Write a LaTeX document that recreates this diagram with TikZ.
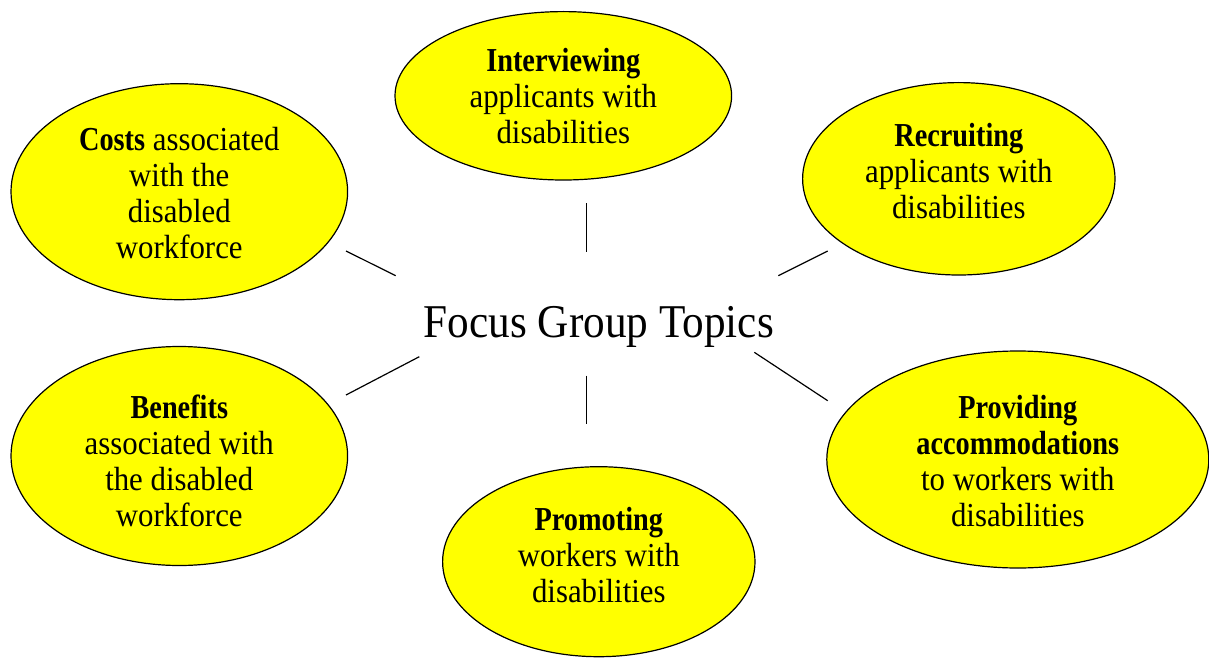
\documentclass[tikz,border=0pt]{standalone}
\usepackage{fontspec}
\setmainfont{Liberation Serif}[FakeStretch=0.92]
\newfontfamily\keyfont{Liberation Serif}[FakeStretch=0.845]
\usetikzlibrary{shapes.geometric}
\definecolor{topicyellow}{RGB}{255,255,0}
% bold lead word of each topic
\newcommand\kw[1]{{\keyfont\bfseries #1}}
% centred lines, baseline of the first line is the node's base
\newcommand\lines[1]{\begin{tabular}[t]{@{}c@{}}#1\end{tabular}}

\begin{document}
\begin{tikzpicture}[x=1pt,y=-1pt,
  topic/.style={ellipse, draw=black, line width=1.2pt, fill=topicyellow, inner sep=0pt},
  topictext/.style={anchor=base, inner sep=0pt, font=\fontsize{33.5}{36}\selectfont},
  spoke/.style={line width=1.2pt}]

\useasboundingbox (0,0) rectangle (1209,658);

% topic ellipses
\node[topic, minimum width=336.6pt, minimum height=168.4pt] (interview) at (563.3,95.8) {};
\node[topic, minimum width=336.6pt, minimum height=216pt]   (costs)     at (179.3,191.7) {};
\node[topic, minimum width=312.4pt, minimum height=192.4pt] (recruit)   at (958.8,178.8) {};
\node[topic, minimum width=336.6pt, minimum height=219pt]   (benefits)  at (179.3,456) {};
\node[topic, minimum width=312.4pt, minimum height=190pt]   (promote)   at (598.8,561.7) {};
\node[topic, minimum width=382pt,   minimum height=217pt]   (accommod)  at (1017.8,459.5) {};

% topic texts
\node[topictext] (interviewT) at (563.3,71.7)
  {\lines{\kw{Interviewing}\\ applicants with\\ disabilities}};
\node[topictext] (costsT) at (179.3,150.7)
  {\lines{\kw{Costs} associated\\ with the\\ disabled\\ workforce}};
\node[topictext] (recruitT) at (958.8,146.7)
  {\lines{\kw{Recruiting}\\ applicants with\\ disabilities}};
\node[topictext] (benefitsT) at (179.3,418)
  {\lines{\kw{Benefits}\\ associated with\\ the disabled\\ workforce}};
\node[topictext] (promoteT) at (598.8,530.7)
  {\lines{\kw{Promoting}\\ workers with\\ disabilities}};
\node[topictext] (accommodT) at (1017.8,418)
  {\lines{\kw{Providing}\\ \kw{accommodations}\\ to workers with\\ disabilities}};

% central title
\node[anchor=base, inner sep=0pt, font=\fontsize{47}{50}\selectfont] (title) at (598.8,337.7)
  {Focus Group Topics};

% spokes between the title and the topics
\coordinate (n1) at (586.7,203);   \coordinate (n2) at (586.7,252);
\coordinate (nw1) at (346,251);    \coordinate (nw2) at (395.7,275.7);
\coordinate (ne1) at (778.3,275.7);\coordinate (ne2) at (827.7,251);
\coordinate (sw1) at (419.3,356.7);\coordinate (sw2) at (346,395);
\coordinate (se1) at (754.3,352.3);\coordinate (se2) at (827.7,400.7);
\coordinate (s1) at (586.7,375.7); \coordinate (s2) at (586.7,424.3);

\draw[spoke] (n1) -- (n2);
\draw[spoke] (nw1) -- (nw2);
\draw[spoke] (ne1) -- (ne2);
\draw[spoke] (sw1) -- (sw2);
\draw[spoke] (se1) -- (se2);
\draw[spoke] (s1) -- (s2);
\end{tikzpicture}
\end{document}
